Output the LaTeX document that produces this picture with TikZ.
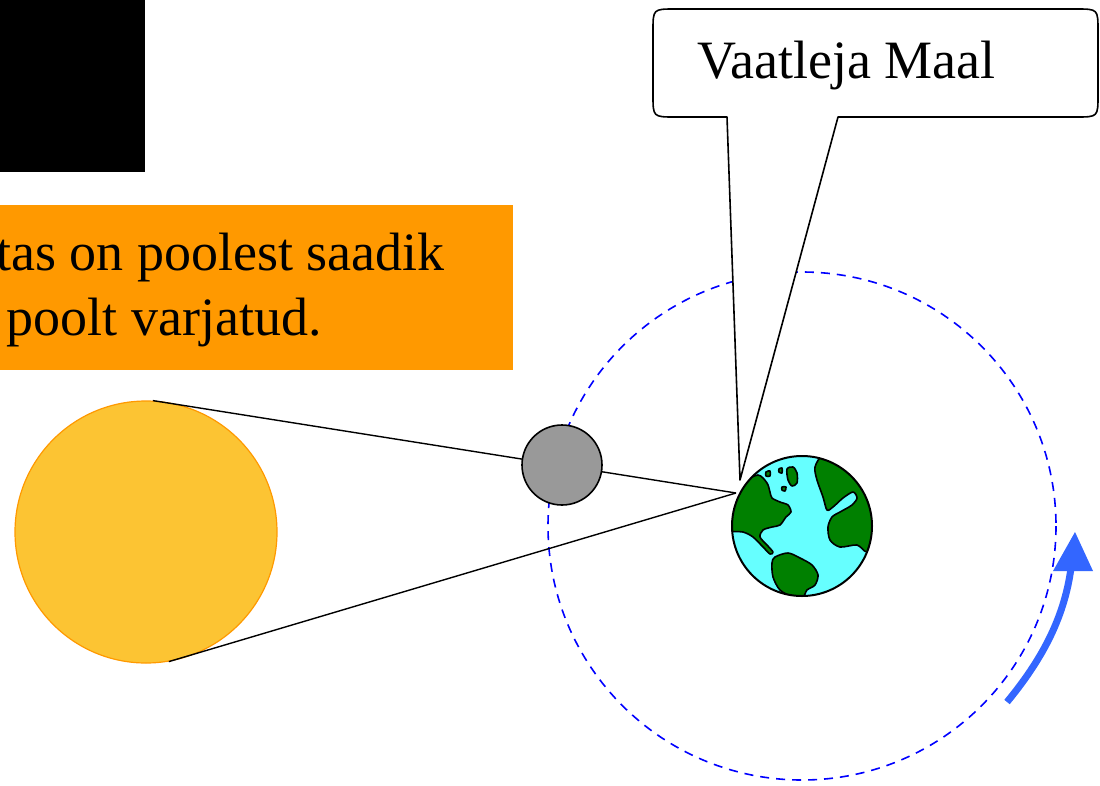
\documentclass[tikz,border=0pt]{standalone}
\usepackage{fontspec}
\setmainfont{Liberation Serif}
\definecolor{notebg}{HTML}{FF9900}
\definecolor{sunfill}{HTML}{FCC433}
\definecolor{sunedge}{HTML}{FF9900}
\definecolor{moonfill}{HTML}{999999}
\definecolor{sea}{HTML}{66FFFF}
\definecolor{land}{HTML}{008000}
\definecolor{orbitblue}{HTML}{0000FF}
\definecolor{arrowblue}{HTML}{3366FF}
\begin{document}
\begin{tikzpicture}[x=1pt,y=-1pt,
  bigtext/.style={font=\fontsize{54}{65}\selectfont, inner sep=0pt},
  ray/.style={line width=1.4pt, black},
  orbit/.style={orbitblue, line width=1.6pt, dash pattern=on 9pt off 7pt},
  body/.style={circle, inner sep=0pt},
  continent/.style={fill=land, draw=black, line width=1.6pt, line join=round}]
\useasboundingbox (0,0) rectangle (1100,785);

% black block and the orange note
\node[fill=black, anchor=north west, minimum width=145pt, minimum height=172pt, inner sep=0pt] (blk) at (0,0) {};
\node[fill=notebg, anchor=north west, minimum width=513pt, minimum height=165pt, inner sep=0pt] (note) at (0,205) {};
\begin{scope}
  \clip (note.south west) rectangle (note.north east);
  \node[bigtext, anchor=base east] (l1) at (445,270) {tas on poolest saadik};
  \node[bigtext, anchor=base east] (l2) at (322,335) {poolt varjatud.};
\end{scope}

% positions of the bodies
\coordinate (ec) at (802,526);
\coordinate (eye) at (736,493);
\coordinate (tip) at (740,480);

% Moon orbit
\draw[orbit] (ec) circle[radius=254];

% Sun
\node[body, fill=sunfill, draw=sunedge, line width=1.2pt, minimum size=262pt] (sun) at (146,532) {};

% sight lines from the edges of the Sun to the observer
\draw[ray] (sun.87) -- (eye);
\draw[ray] (sun.-80) -- (eye);

% Moon
\node[body, fill=moonfill, draw=black, line width=1.6pt, minimum size=80pt] (moon) at (562,465) {};

% Earth
\node[body, fill=sea, minimum size=140pt] (earth) at (ec) {};
\begin{scope}
  \clip (earth.center) circle[radius=70];
  % the Americas (north)
  \draw[continent] plot[smooth cycle, tension=0.5] coordinates {
    (743,483) (758,475) (767,483) (770,492) (772,498) (780,502) (788,505)
    (791,512) (786,517) (780,525) (772,527) (763,530) (760,537) (767,545)
    (773,552) (770,554) (763,547) (753,537) (743,532) (728,530) (726,513) (730,498)};
  % Greenland and small islands
  \draw[continent] plot[smooth cycle, tension=0.5] coordinates {
    (787,469) (793,467) (797,473) (797,483) (792,486) (788,480)};
  \draw[continent] plot[smooth cycle] coordinates {(766,472) (770,471) (770,476) (766,476)};
  \draw[continent] plot[smooth cycle] coordinates {(779,469) (782,468) (782,473) (779,472)};
  \draw[continent] plot[smooth cycle] coordinates {(782,487) (786,487) (785,491) (782,490)};
  % Europe and Africa
  \draw[continent] plot[smooth cycle, tension=0.5] coordinates {
    (815,467) (817,480) (823,497) (827,510) (833,507) (843,498) (853,492)
    (857,498) (852,505) (840,512) (832,517) (828,527) (830,540) (840,547)
    (857,545) (867,552) (880,545) (882,513) (876,488) (860,466) (840,456) (823,455)};
  % South America
  \draw[continent] plot[smooth cycle, tension=0.5] coordinates {
    (775,557) (788,553) (800,558) (812,565) (818,575) (815,585) (807,590)
    (803,597) (793,597) (780,590) (773,577) (772,563)};
\end{scope}
\draw[black, line width=2pt] (earth.center) circle[radius=70];

% speech bubble with its tail pointing at the observer
\draw[fill=white, line width=1.6pt, line join=round]
  (727,117) -- (tip) -- (838,117) -- (1076,117)
  .. controls (1098,117) .. (1098,95) -- (1098,31)
  .. controls (1098,9) .. (1076,9) -- (675,9)
  .. controls (653,9) .. (653,31) -- (653,95)
  .. controls (653,117) .. (675,117) -- cycle;
\node[bigtext, anchor=base west] (obs) at (697,78) {Vaatleja Maal};

% direction of the Moon's motion
\coordinate (s0) at (1007,702);
\coordinate (s1) at (1071,568);
\draw[arrowblue, line width=7pt] (s0) .. controls (1040,662) and (1064,620) .. (s1);
\fill[arrowblue] (1053,571) -- (1075,532) -- (1093,571) -- cycle;
\end{tikzpicture}
\end{document}
